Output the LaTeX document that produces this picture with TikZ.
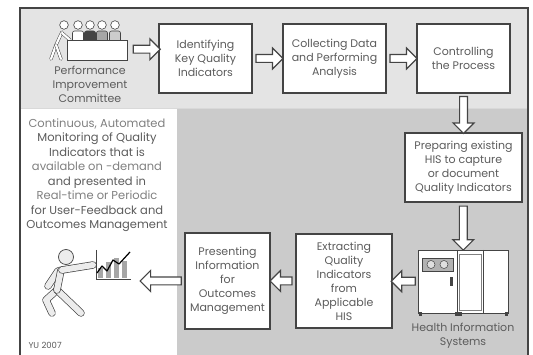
\documentclass[tikz,border=0pt]{standalone}
\usepackage{fontspec}
\setmainfont{Poppins}
\usetikzlibrary{shapes.arrows,calc}

\definecolor{bandgray}{HTML}{E4E4E4}
\definecolor{panelgray}{HTML}{CBCBCB}
\definecolor{inkgray}{HTML}{444444}
\definecolor{textgray}{HTML}{5C5C5C}
\definecolor{softgray}{HTML}{808080}

\tikzset{
	stepbox/.style={draw=inkgray, line width=1.3pt, fill=white, align=center,
		text=textgray, font=\fontsize{11}{14}\selectfont, inner sep=1pt},
	harrow/.style={single arrow, draw=inkgray, fill=white, line width=1.1pt,
		inner sep=3.4pt, single arrow head extend=6.5pt, single arrow head indent=0pt,
		minimum height=#1},
	limb/.style={draw=inkgray, line width=0.7pt, double=gray!15, double distance=6pt,
		line cap=round, line join=round},
	thinlimb/.style={draw=inkgray, line width=0.5pt, double=white, double distance=2.2pt,
		line cap=round, line join=round},
	caption/.style={align=center, text=textgray, font=\fontsize{11}{14}\selectfont}
}

\begin{document}
\begin{tikzpicture}[x=1pt, y=-1pt]
	\useasboundingbox (0,0) rectangle (533,355);

	% panels and frame
	\fill[bandgray] (20,8) rectangle (528,108);
	\fill[white] (20,108) rectangle (177,355);
	\fill[panelgray] (177,108) rectangle (528,355);
	\draw[white!85!black, line width=0.6pt] (20,108) -- (528,108);
	\draw[inkgray, line width=1.6pt] (20,355) -- (20,8) -- (528,8) -- (528,355);

	% process steps
	\node (ident) at (205.5,58.5) [stepbox, minimum width=93pt, minimum height=69pt]
		{Identifying\\Key Quality\\Indicators};
	\node (collect) at (334.5,58.5) [stepbox, minimum width=103pt, minimum height=69pt]
		{Collecting Data\\and Performing\\Analysis};
	\node (control) at (463.5,58.5) [stepbox, minimum width=93pt, minimum height=69pt]
		{Controlling\\the Process};
	\node (prep) at (463.5,167.5) [stepbox, minimum width=117pt, minimum height=69pt]
		{Preparing existing\\HIS to capture\\or document\\Quality Indicators};
	\node (extract) at (344,281) [stepbox, minimum width=96pt, minimum height=94pt]
		{Extracting\\Quality\\Indicators\\from\\Applicable\\HIS};
	\node (present) at (227.5,281) [stepbox, minimum width=85pt, minimum height=96pt]
		{Presenting\\Information\\for\\Outcomes\\Management};

	% committee
	\node (committee) at (90,40) [minimum width=78pt, minimum height=40pt, inner sep=0pt] {};
	\foreach \x/\c in {78/white, 90/inkgray, 102/gray!70, 115/gray!40} {
		\draw[inkgray, line width=0.6pt, fill=\c, rounded corners=2pt] (\x-5.5,31) rectangle (\x+5.5,42);
		\draw[inkgray, line width=0.6pt, fill=white] (\x,25) circle (4.3);
	}
	\draw[thinlimb] (62,32) -- (56,45) -- (51,59);
	\draw[thinlimb] (56,45) -- (61,59);
	\draw[thinlimb] (62,33) -- (70,40);
	\draw[inkgray, line width=0.6pt, fill=white] (64,25) circle (4.3);
	\draw[inkgray, line width=0.8pt, fill=white] (67,40) rectangle (127,60);
	\node at (90,84) [caption] {Performance\\Improvement\\Committee};

	% monitoring text
	\node (monitor) at (97,175) [align=center, font=\fontsize{11.5}{14.5}\selectfont, text=textgray]
		{\textcolor{softgray}{Continuous, Automated}\\
		Monitoring of Quality\\
		Indicators that is\\
		\textcolor{softgray}{available on -demand}\\
		and presented in\\
		\textcolor{softgray}{Real-time or Periodic}\\
		for User-Feedback and\\
		Outcomes Management};

	% presenter with chart
	\coordinate (board) at (141,281);
	\draw[limb] (58,271) -- (48,286);
	\draw[limb] (57,290) -- (46,300) -- (52,313);
	\draw[limb] (57,290) -- (81,313);
	\draw[limb] (61,270) -- (57,290);
	\draw[limb] (62,270) -- (93,265);
	\draw[inkgray, line width=0.7pt, fill=gray!15] (66,257) circle (7.5);
	\foreach \x/\h in {98/268, 106/262, 114/258, 122/261} {
		\fill[gray!70] (\x,278) rectangle (\x+5,\h);
	}
	\draw[inkgray, line width=0.8pt] (96,250) -- (96,279) -- (131,279);
	\draw[black, line width=1.2pt, line join=round] (97,273) -- (102,266) -- (107,271)
		-- (113,260) -- (119,264) -- (130,252);

	% health information systems
	\node (his) at (463,281.5) [minimum width=90pt, minimum height=63pt, inner sep=0pt] {};
	\draw[inkgray, line width=0.6pt, fill=white] (418,250) rectangle (508,313);
	\draw[inkgray, line width=0.6pt] (457,250) -- (457,313) (483,250) -- (483,313);
	\draw[gray, line width=0.4pt] (459,254) rectangle (481,310);
	\draw[inkgray, line width=0.5pt, fill=gray!60] (422,258) rectangle (453,271);
	\draw[inkgray, line width=0.5pt, fill=gray!25] (431,264.5) circle (4) (444,264.5) circle (4);
	\fill[inkgray] (450,277) rectangle (452.5,286);
	\foreach \x/\w in {419/3, 455/7, 505/3} {
		\fill[inkgray] (\x,312) rectangle (\x+\w,316);
	}
	\node at (463,336) [caption] {Health Information\\Systems};

	% arrows
	\node at ($(committee.east)!.5!(ident.west)+(1,0)$) [harrow=27pt] {};
	\node at ($(ident.east)!.5!(collect.west)$) [harrow=27pt] {};
	\node at ($(collect.east)!.5!(control.west)$) [harrow=27pt] {};
	\node at ($(control.south)!.5!(prep.north)$) [harrow=37pt, shape border rotate=270] {};
	\node at ($(prep.south)!.5!(his.north)$) [harrow=44pt, shape border rotate=270] {};
	\node at ($(his.west)!.5!(extract.east)$) [harrow=24pt, shape border rotate=180] {};
	\node at ($(extract.west)!.5!(present.east)$) [harrow=22pt, shape border rotate=180] {};
	\node at ($(present.west)!.5!(board)$) [harrow=41pt, shape border rotate=180] {};

	\node at (25,345) [anchor=west, text=textgray, font=\fontsize{8.5}{9}\selectfont] {YU 2007};
\end{tikzpicture}
\end{document}
